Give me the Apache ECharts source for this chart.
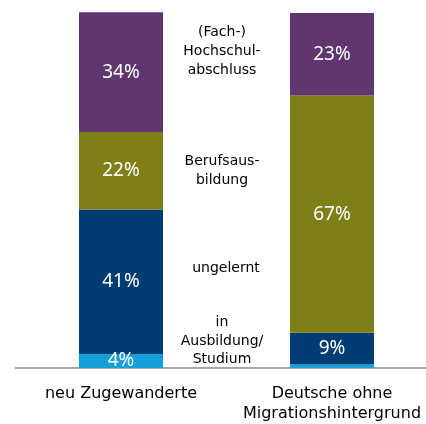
<!DOCTYPE html>
<html>
<head>
<meta charset="utf-8">
<script src="https://cdn.jsdelivr.net/npm/echarts@6/dist/echarts.min.js"></script>
<style>html,body{margin:0;padding:0;background:#fff}#c{width:426px;height:424px}</style>
</head>
<body>
<div id="c"></div>
<script>
var categories = ['neu Zugewanderte', 'Deutsche ohne\nMigrationshintergrund'];
var inAusbildung = [4, 1];
var ungelernt = [41, 9];
var berufsausbildung = [22, 67.4];
var hochschul = [34, 23.4];
var showLabel = [[true, false], [true, true], [true, true], [true, true]];
var segmentNames = ['in Ausbildung/Studium', 'ungelernt', 'Berufsausbildung', '(Fach-)Hochschulabschluss'];
var segmentColors = ['#139fd7', '#003d74', '#7f7f18', '#5f366f'];
var sideLabels = ['(Fach-)\nHochschul-\nabschluss', 'Berufsaus-\nbildung', 'ungelernt', 'in\nAusbildung/\nStudium'];

var chart = echarts.init(document.getElementById('c'));
var seriesData = [inAusbildung, ungelernt, berufsausbildung, hochschul];
var series = seriesData.map(function (arr, i) {
  return {
    name: segmentNames[i],
    type: 'bar',
    stack: 'total',
    barWidth: 84,
    itemStyle: { color: segmentColors[i] },
    data: arr.map(function (v, j) {
      return { value: v, label: { show: showLabel[i][j] } };
    }),
    label: {
      show: true,
      position: 'inside',
      color: '#fff',
      fontFamily: 'Noto Sans',
      fontSize: 19,
      formatter: function (p) { return Math.round(p.value) + '%'; }
    },
    animation: false
  };
});

var sideStyle = function (t) {
  return { text: t, align: 'center', verticalAlign: 'middle', font: '14px "DejaVu Sans"', lineHeight: 18.8, fill: '#000' };
};

chart.setOption({
  animation: false,
  grid: { left: 15.5, width: 422, top: 12.3, bottom: 56, containLabel: false, outerBoundsMode: 'none' },
  xAxis: {
    type: 'category',
    data: categories,
    axisLine: { show: true, lineStyle: { color: '#a6a6a6', width: 2 } },
    axisTick: { show: false },
    axisLabel: {
      color: '#000',
      fontFamily: 'DejaVu Sans',
      fontSize: 16,
      lineHeight: 20,
      margin: 16,
      interval: 0,
      hideOverlap: false
    }
  },
  yAxis: {
    type: 'value',
    min: 0,
    max: 101,
    show: false
  },
  series: series,
  graphic: [
    { type: 'text', x: 222, y: 51.5, style: sideStyle(sideLabels[0]) },
    { type: 'text', x: 222, y: 171, style: sideStyle(sideLabels[1]) },
    { type: 'text', x: 226, y: 268, style: sideStyle(sideLabels[2]) },
    { type: 'text', x: 222, y: 341, style: sideStyle(sideLabels[3]) }
  ]
});
</script>
</body>
</html>
